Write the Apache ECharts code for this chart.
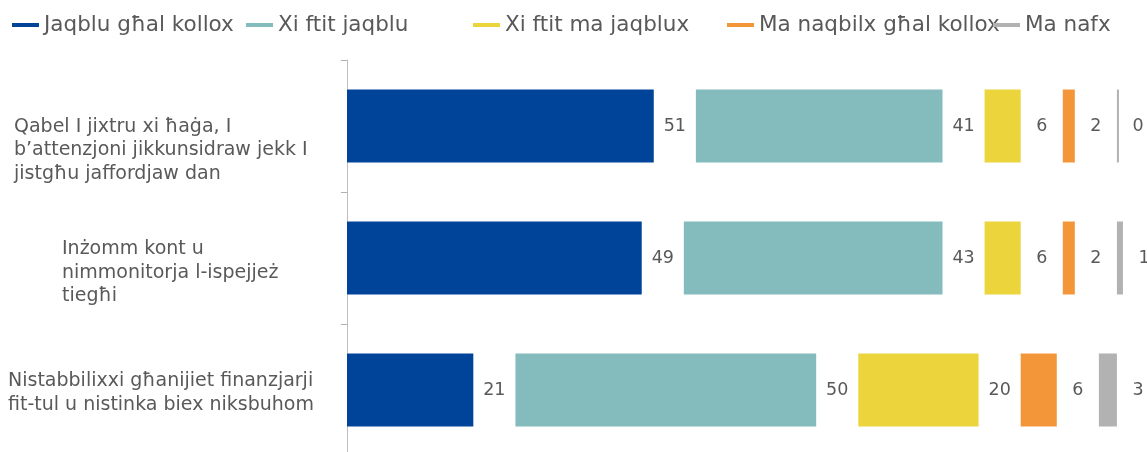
<!DOCTYPE html>
<html>
<head>
<meta charset="utf-8">
<script src="https://cdn.jsdelivr.net/npm/echarts@6/dist/echarts.min.js"></script>
<style>
  html, body { margin: 0; padding: 0; background: #fff; }
  #chart { width: 1147px; height: 452px; }
</style>
</head>
<body>
<div id="chart"></div>
<script>
// categories (y axis, top to bottom)
const categories = [
  "Qabel I jixtru xi ħaġa, I\nb’attenzjoni jikkunsidraw jekk I\njistgħu jaffordjaw dan",
  "Inżomm kont u\nnimmonitorja l-ispejjeż\ntiegħi",
  "Nistabbilixxi għanijiet finanzjarji\nfit-tul u nistinka biex niksbuhom",
];
const answers = [
  "Jaqblu għal kollox",
  "Xi ftit jaqblu",
  "Xi ftit ma jaqblux",
  "Ma naqbilx għal kollox",
  "Ma nafx",
];
// values per answer, one per category
const jaqbluGhalKollox = [51, 49, 21];
const xiFtitJaqblu = [41, 43, 50];
const xiFtitMaJaqblux = [6, 6, 20];
const maNaqbilxGhalKollox = [2, 2, 6];
const maNafx = [0, 1, 3];

const values = [jaqbluGhalKollox, xiFtitJaqblu, xiFtitMaJaqblux, maNaqbilxGhalKollox, maNafx];
const colors = ["#00449a", "#84bbbc", "#ecd43c", "#f3963a", "#b2b2b2"];
const GAP = 7; // empty space after each segment, holds the value label
const TEXT = "#595959";
const FONT = "DejaVu Sans";

// legend placement
const legendLeft = [12, 246, 473, 727, 993];

// per-row label offsets: left indent, extra space above (pushes block down by half)
const rowPad = [[6, 49], [54, 30], [0, 6]];
const rich = {};
rowPad.forEach(([l, t], i) => {
  rich["s" + i] = { fontSize: 1, lineHeight: t, height: t };
  rich["t" + i] = { padding: [0, 0, 0, l], fontSize: 19, lineHeight: 23.5, color: TEXT, fontFamily: FONT };
});

const series = [];
answers.forEach((name, i) => {
  series.push({
    name,
    type: "bar",
    stack: "total",
    data: values[i],
    barWidth: 73,
    barMinHeight: i === 4 ? 2 : 0,
    itemStyle: { color: colors[i] },
    emphasis: { disabled: true },
  });
  series.push({
    name: "gap" + i,
    type: "bar",
    stack: "total",
    data: values[i].map(() => GAP),
    barWidth: 73,
    clip: false,
    silent: true,
    itemStyle: { color: "rgba(0,0,0,0)" },
    label: {
      show: true,
      position: "inside",
      formatter: (p) => String(values[i][p.dataIndex]),
      color: TEXT,
      fontSize: 17.5,
      fontFamily: FONT,
    },
  });
});

const chart = echarts.init(document.getElementById("chart"));
chart.setOption({
  animation: false,
  textStyle: { fontFamily: FONT },
  legend: answers.map((name, i) => ({
    data: [name],
    left: legendLeft[i],
    top: 14,
    padding: 0,
    icon: "rect",
    itemWidth: 27,
    itemHeight: 4,
    selectedMode: false,
    textStyle: { color: TEXT, fontSize: 21.5, fontFamily: FONT },
  })),
  grid: { left: 347, right: 0, top: 60, height: 396, outerBoundsMode: "none" },
  xAxis: {
    type: "value",
    min: 0,
    max: 133,
    show: false,
  },
  yAxis: {
    type: "category",
    data: categories,
    inverse: true,
    axisLine: { lineStyle: { color: "#bfbfbf", width: 1 } },
    axisTick: { show: true, alignWithLabel: false, length: 6, lineStyle: { color: "#b0b0b0", width: 1 } },
    axisLabel: {
      align: "left",
      margin: 339,
      formatter: (value, idx) =>
        "{s" + idx + "| }\n" + value.split("\n").map((l) => "{t" + idx + "|" + l + "}").join("\n"),
      rich,
    },
  },
  series,
});
</script>
</body>
</html>
